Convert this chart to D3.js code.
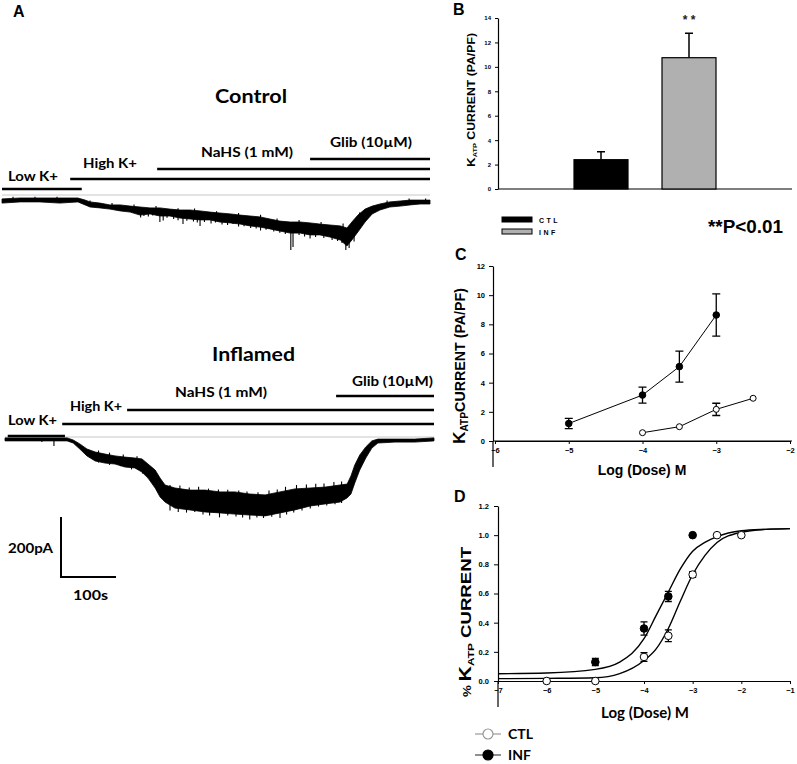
<!DOCTYPE html>
<html>
<head>
<meta charset="utf-8">
<script src="https://cdn.jsdelivr.net/npm/d3@7"></script>
<style>
body { margin: 0; background: #fff; }
svg text { font-family: Arial, "Liberation Sans", sans-serif; font-weight: bold; }
.cal { font-family: Lato, "Open Sans", sans-serif; font-weight: bold; }
</style>
</head>
<body>
<div class="render"></div>
<script>
"use strict";

// ---- panel A : patch clamp traces, time (s), edges of the noisy band (pA)
var ctlTime = [0, 33, 69, 105, 138, 151, 160, 178, 196, 215, 233, 251, 269, 287, 305, 324, 342, 360, 378, 396, 415, 433, 451, 469, 487, 505, 524, 542, 560, 578, 596, 615, 627, 636, 647, 660, 673, 687, 705, 724, 742, 760, 778];
var ctlHi = [-13, -10, -10, -10, -10, -17, -23, -27, -33, -33, -37, -40, -43, -43, -47, -50, -50, -53, -57, -60, -63, -67, -70, -73, -80, -87, -90, -90, -93, -97, -100, -103, -110, -90, -67, -47, -37, -30, -23, -20, -17, -17, -17];
var ctlLo = [-27, -23, -23, -27, -23, -33, -40, -43, -47, -53, -57, -67, -63, -70, -70, -77, -80, -83, -83, -90, -93, -97, -103, -107, -113, -120, -127, -127, -133, -133, -140, -150, -170, -150, -123, -90, -63, -50, -40, -37, -33, -30, -30];
// single noise excursions: time (s), tip (pA)
var ctlSpikes = [[252, -75], [258, -70], [266, -72], [274, -68], [287, -90], [293, -85], [300, -76], [312, -80], [320, -84], [329, -97], [336, -86], [348, -88], [355, -92], [360, -103], [368, -90], [380, -95], [388, -92], [400, -98], [410, -100], [420, -97], [430, -105], [440, -104], [452, -110], [462, -112], [470, -118], [480, -116], [494, -122], [505, -126], [515, -130], [525, -183], [529, -173], [540, -133], [550, -138], [560, -145], [570, -140], [585, -143], [600, -150], [610, -153], [618, -160], [625, -183], [631, -177], [640, -155],
   [20, -6], [60, -6], [100, -6], [160, -18], [200, -27], [240, -32], [280, -37], [320, -44], [350, -45], [390, -54], [430, -60], [470, -66], [500, -78], [540, -83], [580, -90], [620, -95], [650, -58], [700, -18], [740, -12], [770, -12]];

var infTime = [0, 45, 91, 113, 124, 136, 149, 164, 182, 200, 218, 236, 249, 260, 273, 282, 291, 309, 336, 364, 391, 418, 445, 473, 500, 527, 555, 582, 609, 622, 629, 636, 645, 656, 667, 678, 709, 745, 780];
var infHi = [-3, -3, -3, -3, -10, -23, -40, -50, -57, -63, -67, -70, -73, -90, -110, -137, -160, -170, -177, -177, -183, -183, -190, -193, -183, -173, -170, -167, -160, -157, -130, -93, -60, -33, -13, -7, -7, -7, -3];
var infLo = [-13, -13, -13, -13, -20, -40, -63, -80, -87, -90, -100, -103, -117, -137, -170, -200, -217, -237, -243, -250, -253, -257, -260, -263, -253, -243, -230, -223, -217, -203, -190, -153, -110, -70, -37, -20, -17, -17, -13];
var infSpikes = [[67, -17], [89, -30], [170, -85], [190, -93], [210, -97], [230, -108], [250, -122], [300, -245], [315, -250], [330, -252], [345, -250], [360, -258], [372, -262], [390, -268], [405, -262], [420, -265], [432, -268], [445, -275], [458, -268], [470, -270], [485, -266], [500, -270], [512, -258], [525, -252], [540, -245], [555, -238], [570, -232], [585, -228], [600, -224], [612, -220],
   [170, -45], [190, -52], [215, -58], [240, -64], [300, -160], [318, -162], [335, -168], [352, -166], [370, -172], [388, -175], [405, -176], [425, -178], [440, -182], [460, -184], [480, -178], [495, -175], [510, -166], [530, -160], [548, -158], [565, -156], [580, -155], [598, -150], [612, -148]];

// solution applied: name, start (s), end (s)
var ctlSolutions = [["Low K+", 0, 145], ["High K+", 124, 778], ["NaHS (1 mM)", 282, 778], ["Glib (10\u00b5M)", 560, 778]];
var infSolutions = [["Low K+", 5, 109], ["High K+", 104, 780], ["NaHS (1 mM)", 222, 780], ["Glib (10\u00b5M)", 602, 780]];

// ---- panel B
var groups = ["CTL", "INF"];
var barMean = [2.4, 10.75];
var barErr = [0.65, 2.0];

// ---- panel C : current vs log dose
var cDoseInf = [-5, -4, -3.5, -3];
var cInf = [1.2, 3.15, 5.1, 8.64];
var cInfErr = [0.35, 0.55, 1.06, 1.45];
var cDoseCtl = [-4, -3.5, -3, -2.5];
var cCtl = [0.57, 0.98, 2.17, 2.93];
var cCtlErr = [0, 0, 0.42, 0];

// ---- panel D : normalised current
var dDoseInf = [-5, -4, -3.5, -3];
var dInf = [0.13, 0.36, 0.58, 1.0];
var dInfErr = [0.025, 0.045, 0.035, 0];
var dDoseCtl = [-6, -5, -4, -3.5, -3, -2.5, -2];
var dCtl = [0, 0, 0.165, 0.31, 0.73, 1.0, 1.0];
var dCtlErr = [0, 0, 0.03, 0.04, 0.02, 0, 0];
var fitDose = [-7, -6, -5, -4.5, -4, -3.75, -3.5, -3.25, -3, -2.75, -2.5, -2, -1.5, -1];
var fitInf = [0.05, 0.055, 0.08, 0.13, 0.29, 0.45, 0.61, 0.77, 0.89, 0.95, 0.99, 1.03, 1.04, 1.045];
var fitCtl = [0.016, 0.018, 0.022, 0.05, 0.14, 0.22, 0.36, 0.55, 0.73, 0.86, 0.95, 1.02, 1.04, 1.045];

var svg = d3.select(".render").append("svg").attr("width", 797).attr("height", 764);
svg.append("rect").attr("width", 797).attr("height", 764).attr("fill", "#fff");

function label(txt, x, y, size, cls) {
   var t = svg.append("text").text(txt).attr("x", x).attr("y", y).style("font-size", size + "px");
   if (cls) t.attr("class", cls);
   return t;
}

// ================= panel A =================
function drawTrace(time, hi, lo, spikes, x, y) {
   var pts = time.map(function (t, i) { return { t: t, hi: hi[i], lo: lo[i] }; });
   var area = d3.area().x(function (d) { return x(d.t); }).y0(function (d) { return y(d.hi); }).y1(function (d) { return y(d.lo); });
   svg.append("path").datum(pts).attr("d", area).attr("fill", "#000").attr("stroke", "#000").attr("stroke-width", 0.8);
   var bis = d3.bisector(function (d) { return d.t; }).left;
   svg.selectAll(null).data(spikes).enter().append("line")
      .attr("x1", function (d) { return x(d[0]); }).attr("x2", function (d) { return x(d[0]); })
      .attr("y1", function (d) {
         var p = pts[Math.min(bis(pts, d[0]), pts.length - 1)];
         return y((p.hi + p.lo) / 2);
      })
      .attr("y2", function (d) { return y(d[1]); })
      .attr("stroke", "#000").attr("stroke-width", 1.1);
}

function drawSolutions(sol, x, levels, pos, widths) {
   sol.forEach(function (s, i) {
      svg.append("line").attr("x1", x(s[1])).attr("x2", x(s[2])).attr("y1", levels[i]).attr("y2", levels[i])
         .attr("stroke", "#000").attr("stroke-width", 2.6);
      label(s[0], pos[i][0], pos[i][1], 13, "cal").attr("textLength", widths[i]).attr("lengthAdjust", "spacingAndGlyphs");
   });
}

var xCtl = d3.scaleLinear().domain([0, 778]).range([2, 430]);
var yCtl = d3.scaleLinear().domain([0, -200]).range([195, 255]);
var xInf = d3.scaleLinear().domain([0, 780]).range([5, 434]);
var yInf = d3.scaleLinear().domain([0, -200]).range([437, 497]);

label("A", 13, 17, 16);
label("Control", 215, 103, 19, "cal").attr("textLength", 72).attr("lengthAdjust", "spacingAndGlyphs");
svg.append("line").attr("x1", xCtl(0)).attr("x2", xCtl(778)).attr("y1", yCtl(0)).attr("y2", yCtl(0)).attr("stroke", "#c8c8c8").attr("stroke-width", 1);
drawSolutions(ctlSolutions, xCtl, [189, 179, 169, 159], [[8, 181], [83, 168], [201, 157], [330, 147]], [50, 54, 92, 82]);
drawTrace(ctlTime, ctlHi, ctlLo, ctlSpikes, xCtl, yCtl);

label("Inflamed", 212, 361, 19, "cal").attr("textLength", 83).attr("lengthAdjust", "spacingAndGlyphs");
svg.append("line").attr("x1", xInf(0)).attr("x2", xInf(780)).attr("y1", yInf(0)).attr("y2", yInf(0)).attr("stroke", "#c8c8c8").attr("stroke-width", 1);
drawSolutions(infSolutions, xInf, [436, 424, 410, 396], [[8, 425], [70, 411], [175, 397], [352, 386]], [49, 52, 92, 81]);
drawTrace(infTime, infHi, infLo, infSpikes, xInf, yInf);

// scale bar: 100 s, 200 pA
var sbX = 61, sbY = 577;
svg.append("path")
   .attr("d", "M" + sbX + "," + (sbY - (yInf(-200) - yInf(0))) + "V" + sbY + "H" + (sbX + xInf(100) - xInf(0)))
   .attr("fill", "none").attr("stroke", "#000").attr("stroke-width", 2);
label("200pA", 8, 553, 14, "cal").attr("textLength", 45).attr("lengthAdjust", "spacingAndGlyphs");
label("100s", 73, 600, 14, "cal").attr("textLength", 35).attr("lengthAdjust", "spacingAndGlyphs");

// ================= shared helpers =================
function styleAxis(g, size) {
   g.select(".domain").attr("stroke", "#000").attr("stroke-width", 1.2);
   g.selectAll(".tick line").attr("stroke", "#000").attr("stroke-width", 1);
   g.selectAll(".tick text").style("font-size", size + "px").style("font-family", "Arial, 'Liberation Sans', sans-serif").style("font-weight", "bold").attr("fill", "#000");
}

function errBars(xs, ys, es, x, y, cap) {
   var d = xs.map(function (v, i) { return [v, ys[i], es[i]]; }).filter(function (d) { return d[2] > 0; });
   svg.selectAll(null).data(d).enter().append("path")
      .attr("d", function (d) {
         var cx = x(d[0]), a = y(d[1] + d[2]), b = y(d[1] - d[2]);
         return "M" + (cx - cap) + "," + a + "H" + (cx + cap) + "M" + cx + "," + a + "V" + b + "M" + (cx - cap) + "," + b + "H" + (cx + cap);
      })
      .attr("fill", "none").attr("stroke", "#000").attr("stroke-width", 1.3);
}

function dots(xs, ys, x, y, r, filled) {
   svg.selectAll(null).data(xs.map(function (v, i) { return [v, ys[i]]; })).enter().append("circle")
      .attr("cx", function (d) { return x(d[0]); }).attr("cy", function (d) { return y(d[1]); })
      .attr("r", r).attr("fill", filled ? "#000" : "#fff").attr("stroke", "#000").attr("stroke-width", 1);
}

function yTitle(cx, cy, parts) {
   var t = svg.append("text").attr("transform", "translate(" + cx + "," + cy + ")rotate(-90)").attr("text-anchor", "middle");
   parts.forEach(function (p) {
      var s = t.append("tspan").text(p[0]).style("font-size", p[1] + "px");
      if (p[2]) s.attr("dy", p[2]);
   });
   return t;
}

var intFmt = d3.format("d");

// ================= panel B =================
label("B", 453, 15, 16);
var yB = d3.scaleLinear().domain([0, 14]).range([189, 18]);
var xB = d3.scalePoint().domain(groups).range([601, 689]);
var bw = 54;
svg.append("g").attr("transform", "translate(498,0)")
   .call(d3.axisLeft(yB).tickValues(d3.range(0, 15, 2)).tickFormat(intFmt).tickSize(3).tickSizeOuter(0).tickPadding(4))
   .call(styleAxis, 6);
svg.append("line").attr("x1", 498).attr("x2", 792).attr("y1", yB(0)).attr("y2", yB(0)).attr("stroke", "#000").attr("stroke-width", 1.2);
var barFill = ["#000", "#b0b0b0"];
svg.selectAll(null).data(groups).enter().append("path")
   .attr("d", function (g, i) {
      var cx = xB(g), top = yB(barMean[i] + barErr[i]);
      return "M" + cx + "," + yB(barMean[i]) + "V" + top + "M" + (cx - 4) + "," + top + "H" + (cx + 4);
   })
   .attr("stroke", "#000").attr("stroke-width", 1.5).attr("fill", "none");
svg.selectAll(null).data(groups).enter().append("rect")
   .attr("x", function (g) { return xB(g) - bw / 2; }).attr("width", bw)
   .attr("y", function (g, i) { return yB(barMean[i]); })
   .attr("height", function (g, i) { return yB(0) - yB(barMean[i]); })
   .attr("fill", function (g, i) { return barFill[i]; }).attr("stroke", "#000").attr("stroke-width", 1.2);
label("* *", xB("INF"), 24, 12).attr("text-anchor", "middle").attr("fill", "#222");
yTitle(475, 100, [["K", 11], ["ATP", 6, 2], [" CURRENT (PA/PF)", 10, -2]]).attr("textLength", 134).attr("lengthAdjust", "spacingAndGlyphs");
groups.forEach(function (g, i) {
   svg.append("rect").attr("x", 502).attr("y", 217 + i * 12).attr("width", 30).attr("height", 5)
      .attr("fill", barFill[i]).attr("stroke", "#000").attr("stroke-width", 1);
   label(g, 539, 223 + i * 12, 7).style("letter-spacing", "2.5px");
});
label("**P<0.01", 708, 233, 19).attr("textLength", 75).attr("lengthAdjust", "spacingAndGlyphs");

// ================= panel C =================
label("C", 455, 260, 16);
var xC = d3.scaleLinear().domain([-6, -2]).range([495, 790]);
var yC = d3.scaleLinear().domain([0, 12]).range([441, 266]);
svg.append("g").attr("transform", "translate(493,0)")
   .call(d3.axisLeft(yC).tickValues(d3.range(0, 13, 2)).tickFormat(intFmt).tickSize(4).tickSizeOuter(0).tickPadding(4))
   .call(styleAxis, 7.5);
svg.append("line").attr("x1", 493).attr("x2", 493).attr("y1", yC(0)).attr("y2", 467).attr("stroke", "#000").attr("stroke-width", 1.2);
svg.append("g").attr("transform", "translate(0," + yC(0) + ")")
   .call(d3.axisBottom(xC).tickValues(d3.range(-6, -1, 1)).tickFormat(intFmt).tickSize(3).tickSizeOuter(0).tickPadding(4))
   .call(styleAxis, 7.5);
svg.append("line").attr("x1", 493).attr("x2", 792).attr("y1", yC(0)).attr("y2", yC(0)).attr("stroke", "#000").attr("stroke-width", 1.2);
var lineC = d3.line().x(function (d) { return xC(d[0]); }).y(function (d) { return yC(d[1]); });
svg.append("path").datum(cDoseInf.map(function (v, i) { return [v, cInf[i]]; })).attr("d", lineC).attr("fill", "none").attr("stroke", "#000").attr("stroke-width", 1);
svg.append("path").datum(cDoseCtl.map(function (v, i) { return [v, cCtl[i]]; })).attr("d", lineC).attr("fill", "none").attr("stroke", "#000").attr("stroke-width", 1);
errBars(cDoseInf, cInf, cInfErr, xC, yC, 4);
errBars(cDoseCtl, cCtl, cCtlErr, xC, yC, 4);
dots(cDoseInf, cInf, xC, yC, 3.3, true);
dots(cDoseCtl, cCtl, xC, yC, 3, false);
label("Log (Dose) M", 642, 475, 14).attr("text-anchor", "middle");
yTitle(465, 366, [["K", 17], ["ATP", 10, 3], ["CURRENT (PA/PF)", 14, -3]]).attr("textLength", 156).attr("lengthAdjust", "spacingAndGlyphs");

// ================= panel D =================
label("D", 454, 502, 16);
var xD = d3.scaleLinear().domain([-7, -1]).range([498, 790]);
var yD = d3.scaleLinear().domain([0, 1.2]).range([681, 506]);
svg.append("g").attr("transform", "translate(498,0)")
   .call(d3.axisLeft(yD).tickValues(d3.range(0, 1.21, 0.2)).tickFormat(d3.format(".1f")).tickSize(4).tickSizeOuter(0).tickPadding(5))
   .call(styleAxis, 7.5);
svg.append("line").attr("x1", 498).attr("x2", 498).attr("y1", yD(0)).attr("y2", 707).attr("stroke", "#000").attr("stroke-width", 1.2);
svg.append("g").attr("transform", "translate(0," + yD(0) + ")")
   .call(d3.axisBottom(xD).tickValues(d3.range(-7, -0.5, 1)).tickFormat(intFmt).tickSize(3).tickSizeOuter(0).tickPadding(4))
   .call(styleAxis, 7.5);
var lineD = d3.line().x(function (d) { return xD(d[0]); }).y(function (d) { return yD(d[1]); }).curve(d3.curveMonotoneX);
svg.append("path").datum(fitDose.map(function (v, i) { return [v, fitInf[i]]; })).attr("d", lineD).attr("fill", "none").attr("stroke", "#000").attr("stroke-width", 1.4);
svg.append("path").datum(fitDose.map(function (v, i) { return [v, fitCtl[i]]; })).attr("d", lineD).attr("fill", "none").attr("stroke", "#000").attr("stroke-width", 1.4);
errBars(dDoseInf, dInf, dInfErr, xD, yD, 3.5);
errBars(dDoseCtl, dCtl, dCtlErr, xD, yD, 3.5);
dots(dDoseCtl, dCtl, xD, yD, 3.8, false);
dots(dDoseInf, dInf, xD, yD, 3.8, true);
label("Log (Dose) M", 645, 718, 15, "cal").attr("text-anchor", "middle");
yTitle(471, 622, [["% ", 10], ["K", 16], ["ATP", 9, 3], [" CURRENT", 14, -3]]).attr("textLength", 150).attr("lengthAdjust", "spacingAndGlyphs");

// legend D
groups.forEach(function (g, i) {
   var ly = 734 + i * 21;
   svg.append("line").attr("x1", 475).attr("x2", 501).attr("y1", ly).attr("y2", ly).attr("stroke", i ? "#444" : "#999").attr("stroke-width", 1.2);
   svg.append("circle").attr("cx", 488).attr("cy", ly).attr("r", 5).attr("fill", i ? "#000" : "#fff").attr("stroke", i ? "#000" : "#999").attr("stroke-width", 1.2);
   label(g, 508, ly + 5, 14, "cal");
});
</script>
</body>
</html>
